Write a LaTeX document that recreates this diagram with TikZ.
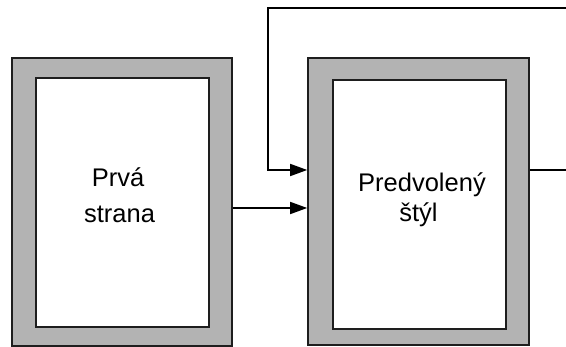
\documentclass[tikz,border=0pt]{standalone}
\usepackage{fontspec}
\setmainfont{Liberation Sans}
\usetikzlibrary{arrows.meta}
\definecolor{framegray}{RGB}{179,179,179}
\definecolor{linegray}{RGB}{30,30,30}
\begin{document}
\begin{tikzpicture}[x=1pt,y=-1pt,
  outerbox/.style={draw=linegray,line width=1.6pt,fill=framegray,rectangle,inner sep=0pt,minimum width=#1},
  innerbox/.style={draw=linegray,line width=1.6pt,fill=white,rectangle,inner sep=0pt,minimum width=173pt,minimum height=249pt},
  conn/.style={draw=black,line width=1.6pt},
  arr/.style={conn,-{Triangle[length=17pt,width=12pt]}},
  lbl/.style={anchor=base,inner sep=0pt,font=\fontsize{25.5}{30}\selectfont,text=black}]
\useasboundingbox (0,0) rectangle (566,347);
% left box
\node[outerbox=220pt,minimum height=288pt] (lo) at (122,202) {};
\node[innerbox] (li) at (122.5,202.5) {};
\node[lbl] (t1) at (118,187) {Prvá};
\node[lbl] (t2) at (119.5,223) {strana};
% right box
\node[outerbox=221pt,minimum height=287pt] (ro) at (418.5,201.5) {};
\node[innerbox] (ri) at (419.5,204.5) {};
\node[lbl] (t3) at (422,192) {Predvolený};
\node[lbl] (t4) at (418.5,222) {štýl};
% connectors
\coordinate (e1) at (566,8);
\coordinate (e2) at (566,170);
\coordinate (c1) at (268,8);
\coordinate (c2) at (268,170);
\draw[arr] (e1) -- (c1) -- (c2) -- (ro.west |- c2);
\draw[arr] (lo.east |- 0,208) -- (ro.west |- 0,208);
\draw[conn] (ro.east |- e2) -- (e2);
\end{tikzpicture}
\end{document}
